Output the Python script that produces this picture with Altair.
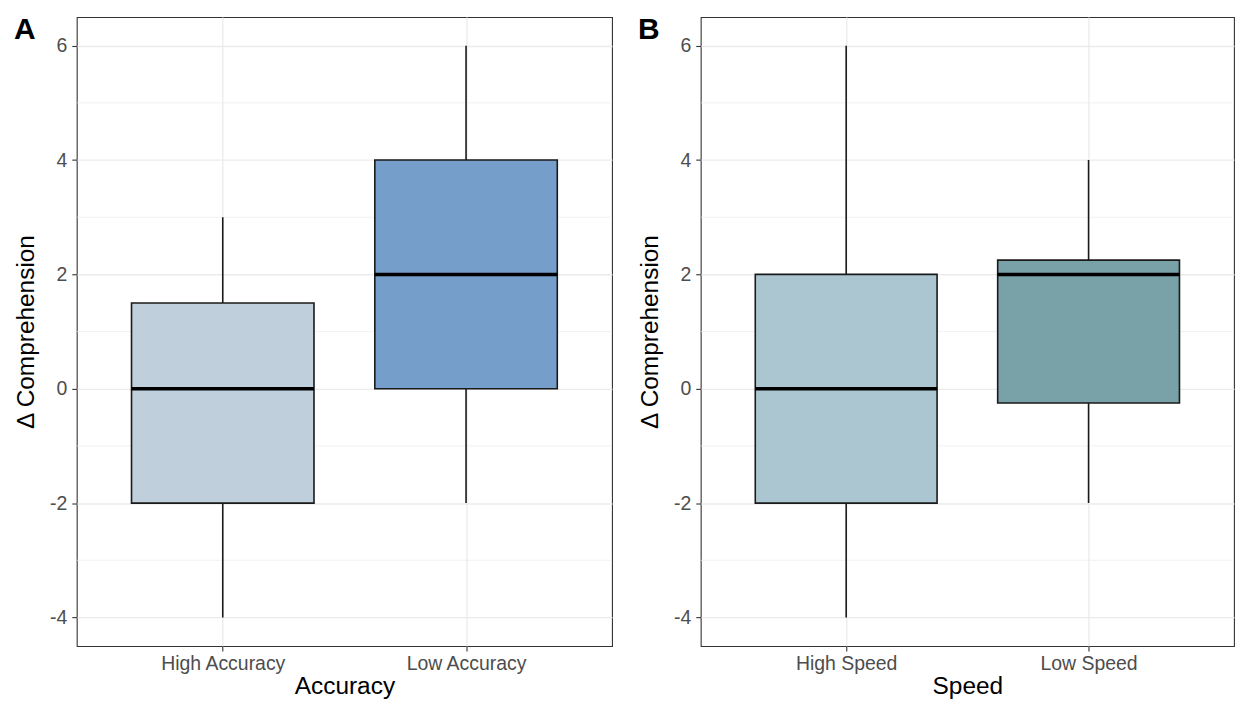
import altair as alt
import pandas as pd

# ---- data ----
groups_a = ["High Accuracy", "Low Accuracy"]
min_a = [-4, -2]
q1_a = [-2, 0]
med_a = [0, 2]
q3_a = [1.5, 4]
max_a = [3, 6]
colors_a = ["#bfd0dc", "#769ecb"]

groups_b = ["High Speed", "Low Speed"]
min_b = [-4, -2]
q1_b = [-2, -0.25]
med_b = [0, 2]
q3_b = [2, 2.25]
max_b = [6, 4]
colors_b = ["#abc6d0", "#78a1a8"]

y_ticks = [-4, -2, 0, 2, 4, 6]
y_minor = [-3, -1, 1, 3, 5]

FONT = "Liberation Sans"
HALF = 0.375


def panel(letter, xtitle, groups, mins, q1s, meds, q3s, maxs, colors, width):
    pos = [i + 1 for i in range(len(groups))]
    df = pd.DataFrame({
        "group": groups, "pos": pos, "color": colors,
        "lo": [p - HALF for p in pos], "hi": [p + HALF for p in pos],
        "min": mins, "q1": q1s, "med": meds, "q3": q3s, "max": maxs,
    })
    label_expr = " : ".join(
        f"datum.value == {p} ? '{g}'" for p, g in zip(pos[:-1], groups[:-1])
    ) + f" : '{groups[-1]}'"
    xscale = alt.Scale(domain=[0.4, len(groups) + 0.6], nice=False, zero=False)
    yscale = alt.Scale(domain=[-4.5, 6.5], nice=False, zero=False)
    xaxis = alt.Axis(values=pos, labelExpr=label_expr, title=xtitle, grid=True)
    yaxis = alt.Axis(values=y_ticks, labelExpr="'' + datum.value",
                     title="Δ Comprehension", grid=True)

    minor = alt.Chart(pd.DataFrame({"v": y_minor})).mark_rule(
        color="#ebebeb", strokeWidth=0.7
    ).encode(y=alt.Y("v:Q", scale=yscale, axis=yaxis))

    whisk = alt.Chart(df).mark_rule(color="#1a1a1a", strokeWidth=1.6).encode(
        x=alt.X("pos:Q", scale=xscale, axis=xaxis),
        y=alt.Y("min:Q", scale=yscale, axis=yaxis),
        y2="max:Q",
    )
    box = alt.Chart(df).mark_rect(stroke="#1a1a1a", strokeWidth=1.6).encode(
        x=alt.X("lo:Q", scale=xscale, axis=xaxis),
        x2="hi:Q",
        y=alt.Y("q1:Q", scale=yscale, axis=yaxis),
        y2="q3:Q",
        fill=alt.Fill("color:N", scale=None, legend=None),
    )
    med = alt.Chart(df).mark_rule(color="#000000", strokeWidth=3.5).encode(
        x=alt.X("lo:Q", scale=xscale, axis=xaxis),
        x2="hi:Q",
        y=alt.Y("med:Q", scale=yscale, axis=yaxis),
    )
    tag = alt.Chart(pd.DataFrame({"t": [letter]})).mark_text(
        font=FONT, fontSize=30, fontWeight="bold", color="#000000",
        align="left", baseline="top",
    ).encode(x=alt.value(-63), y=alt.value(-2), text="t:N")

    return alt.layer(minor, whisk, box, med, tag).properties(width=width, height=631)


pa = panel("A", "Accuracy", groups_a, min_a, q1_a, med_a, q3_a, max_a, colors_a, 537)
pb = panel("B", "Speed", groups_b, min_b, q1_b, med_b, q3_b, max_b, colors_b, 535)

chart = alt.hconcat(pa, pb, spacing=24).properties(
    padding={"left": 5, "top": 5, "right": 0, "bottom": 0}
).configure_view(
    stroke="#333333", strokeWidth=1.1
).configure_axis(
    domain=False,
    gridColor="#ebebeb", gridWidth=1.3,
    tickColor="#333333", tickSize=5, tickWidth=1.1,
    labelFont=FONT, labelFontSize=19.5, labelColor="#4d4d4d", labelPadding=3,
    titleFont=FONT, titleFontSize=24.5, titleColor="#000000", titleFontWeight="normal",
).configure_axisY(
    titlePadding=11, labelPadding=5,
).configure_axisX(
    titlePadding=1, labelPadding=4,
)

chart.save("out.html", embed_options={"renderer": "svg", "actions": False})
